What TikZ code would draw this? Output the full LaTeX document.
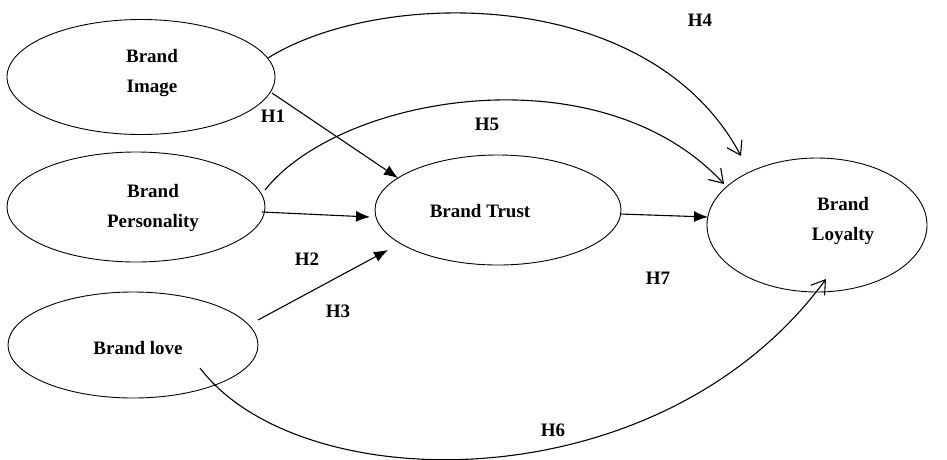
\documentclass[tikz,border=0pt]{standalone}
\usepackage{fontspec}
\setmainfont{Liberation Serif}
\usetikzlibrary{arrows.meta,shapes.geometric}
\begin{document}
\begin{tikzpicture}[x=1pt,y=-1pt,
  construct/.style={draw, ellipse, line width=0.9pt, inner sep=0pt},
  lbl/.style={font=\fontsize{19}{22}\selectfont\bfseries},
  txt/.style={font=\fontsize{19}{30}\selectfont\bfseries, align=center},
  straightarrow/.style={line width=1.1pt, -{Latex[length=14pt,width=11pt]}},
  curvearrow/.style={line width=1.1pt, -{Straight Barb[length=13pt,width=17pt]}}]
\useasboundingbox (0,0) rectangle (947,459);
\node[construct, minimum width=268pt, minimum height=115pt] (img) at (141,77) {};
\node[construct, minimum width=258pt, minimum height=110pt] (per) at (136,207) {};
\node[construct, minimum width=250pt, minimum height=106pt] (love) at (133,345) {};
\node[construct, minimum width=246pt, minimum height=110pt] (trust) at (498,210) {};
\node[construct, minimum width=220pt, minimum height=134pt] (loy) at (817,225) {};
\node[txt] (imgt) at (152,73) {Brand\\Image};
\node[txt] (pert) at (153,208) {Brand\\Personality};
\node[txt] (lovet) at (138,348) {Brand love};
\node[txt] (trustt) at (480,211) {Brand Trust};
\node[txt] (loyt) at (843,221) {Brand\\Loyalty};
\coordinate (h1s) at (272,93);
\coordinate (h1e) at (398,178);
\coordinate (h2s) at (262,212);
\coordinate (h2e) at (370,217);
\coordinate (h3s) at (258,320);
\coordinate (h3e) at (388,250);
\coordinate (h7s) at (620,214);
\coordinate (h7e) at (708,217);
\coordinate (h4s) at (268,58);
\coordinate (h4e) at (741,156);
\coordinate (h5s) at (265,190);
\coordinate (h5e) at (724,184);
\coordinate (h6s) at (200,368);
\coordinate (h6e) at (826,279);
\draw[straightarrow] (h1s) -- (h1e);
\draw[straightarrow] (h2s) -- (h2e);
\draw[straightarrow] (h3s) -- (h3e);
\draw[straightarrow] (h7s) -- (h7e);
\draw[curvearrow] (h4s) .. controls (380,-12) and (650,-15) .. (h4e);
\draw[curvearrow] (h5s) .. controls (340,95) and (600,50) .. (h5e);
\draw[curvearrow] (h6s) .. controls (300,500) and (660,505) .. (h6e);
\node[lbl] (H1) at (273,116) {H1};
\node[lbl] (H2) at (307,259) {H2};
\node[lbl] (H3) at (338,311) {H3};
\node[lbl] (H4) at (700,20) {H4};
\node[lbl] (H5) at (487,124) {H5};
\node[lbl] (H6) at (553,430) {H6};
\node[lbl] (H7) at (658,278) {H7};
\end{tikzpicture}
\end{document}
